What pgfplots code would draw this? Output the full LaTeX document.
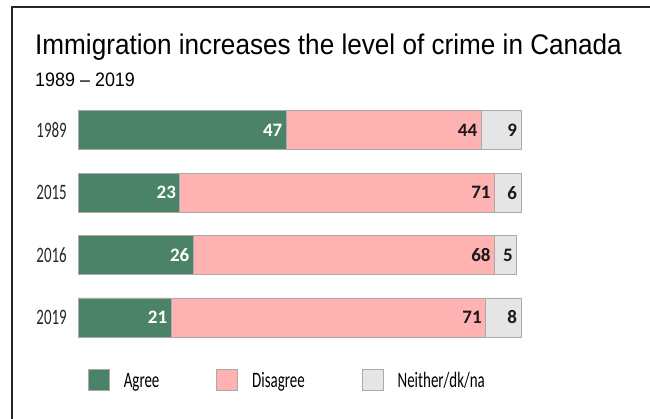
\documentclass[border=0pt]{standalone}
\usepackage{pgfplots}
\pgfplotsset{compat=1.18}
\usepackage{pgfplotstable}
\usepackage{fontspec}
\setmainfont{Carlito}
\newfontfamily\titlefont[FakeStretch=0.92]{Liberation Sans}
\newfontfamily\condfont[FakeStretch=0.68]{Carlito}
\definecolor{agreec}{RGB}{75,131,104}
\definecolor{disc}{RGB}{255,178,178}
\definecolor{neic}{RGB}{229,229,229}
\definecolor{bordc}{RGB}{170,170,170}
\pgfplotstableread{
y agree disagree neither
3 47 44 9
2 23 71 6
1 26 68 5
0 21 71 8
}\data
\begin{document}
\begin{tikzpicture}
\useasboundingbox (0,0) rectangle (650pt,419pt);
\draw[line width=2pt, black!85] (12pt,-2pt) -- (12pt,411.5pt) -- (652pt,411.5pt);
\node[anchor=base west, inner sep=0pt] at (35pt,364pt) {\titlefont\fontsize{28.4}{32}\selectfont Immigration increases the level of crime in Canada};
\node[anchor=base west, inner sep=0pt] at (35pt,332pt) {\titlefont\fontsize{19.5}{22}\selectfont 1989 – 2019};
\begin{axis}[
  at={(78pt,70.3pt)}, anchor=south west,
  scale only axis, width=443pt, height=249.6pt,
  xbar stacked, bar width=39pt,
  xmin=0, xmax=100, ymin=-0.5, ymax=3.5,
  axis line style={draw=none}, major tick length=0pt,
  xtick=\empty, ytick={0,1,2,3}, yticklabels={2019,2016,2015,1989},
  yticklabel style={font=\condfont\fontsize{22}{24}\selectfont, inner sep=0pt, xshift=-11pt, text=black!85},
  clip=false,
  point meta=explicit symbolic,
  visualization depends on=rawx \as \rawx,
  nodes near coords,
  every node near coord/.append style={font=\bfseries\fontsize{19}{21}\selectfont, anchor=east, xshift={\rawx*2.215pt-3.5pt}, inner sep=0pt},
  legend columns=-1,
  legend image code/.code={\draw[#1] (0pt,-10.5pt) rectangle (21pt,10.5pt);},
  legend style={draw=none, fill=none, inner sep=0pt, outer sep=0pt,
    at={(0.02257,-0.1695)}, anchor=south west,
    font=\condfont\fontsize{22}{24}\selectfont,
    nodes={inner sep=0pt, text depth=0pt},
    /tikz/every odd column/.append style={column sep=14pt},
    /tikz/every even column/.append style={column sep=57pt}},
  legend cell align=left,
]
\addplot[fill=agreec, draw=bordc, line width=0.8pt, every node near coord/.append style={text=white}] table[x=agree, y=y, meta=agree] {\data};
\addplot[fill=disc, draw=bordc, line width=0.8pt, every node near coord/.append style={text=black!90}] table[x=disagree, y=y, meta=disagree] {\data};
\addplot[fill=neic, draw=bordc, line width=0.8pt, every node near coord/.append style={text=black!90}] table[x=neither, y=y, meta=neither] {\data};
\legend{Agree,Disagree,Neither/dk/na}
\end{axis}
\end{tikzpicture}
\end{document}
